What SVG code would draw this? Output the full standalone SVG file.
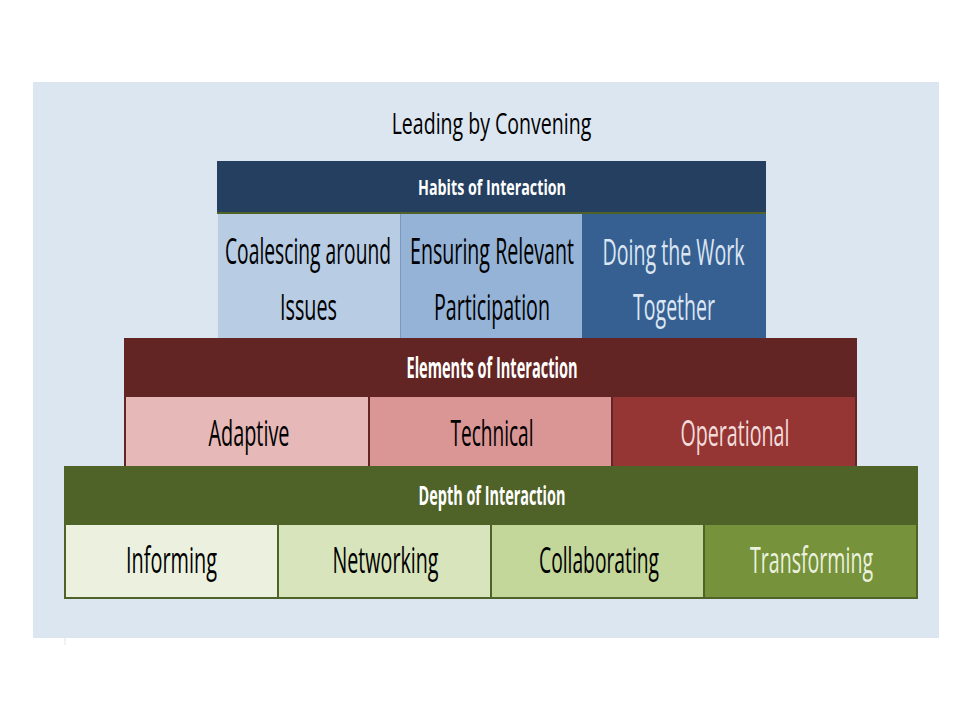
<svg xmlns="http://www.w3.org/2000/svg" width="960" height="720" viewBox="0 0 960 720">
<style>
text{font-family:"Open Sans","Noto Sans","Liberation Sans",sans-serif;text-anchor:middle}
.t{font-size:37px;fill:#000}
.h{font-weight:bold;fill:#ffffff}
.lt{fill:#dce6f2}
</style>
<rect x="0" y="0" width="960" height="720" fill="#ffffff"/>
<rect x="33" y="82" width="906" height="556" fill="#dce6f1"/>
<line x1="65" y1="638" x2="65" y2="645" stroke="#dce6f1" stroke-width="1"/>
<text transform="translate(491.5,134) scale(0.64,1)" x="0" y="0" style="font-size:29px" fill="#000" textLength="312" lengthAdjust="spacingAndGlyphs">Leading by Convening</text>

<g id="habits">
<rect x="217" y="161" width="549" height="51" fill="#243f60"/>
<rect x="217" y="212" width="549" height="2" fill="#4f6228"/>
<text class="h" transform="translate(492,195) scale(0.55,1)" x="0" y="0" style="font-size:22px" textLength="269" lengthAdjust="spacingAndGlyphs">Habits of Interaction</text>
</g>
<g id="coalescing">
<rect x="217" y="214" width="183" height="124" fill="#b8cce4"/>
<line x1="217.5" y1="214" x2="217.5" y2="338" stroke="#dbe5f1" stroke-width="1"/>
<text class="t" transform="translate(308,264) scale(0.5,1)" x="0" y="0" textLength="332" lengthAdjust="spacingAndGlyphs">Coalescing around</text>
<text class="t" transform="translate(308.5,320) scale(0.5,1)" x="0" y="0" textLength="114" lengthAdjust="spacingAndGlyphs">Issues</text>
</g>
<g id="ensuring">
<rect x="400" y="214" width="182" height="124" fill="#95b3d7"/>
<line x1="400.5" y1="214" x2="400.5" y2="338" stroke="#7a98c0" stroke-width="1"/>
<text class="t" transform="translate(492,264) scale(0.5,1)" x="0" y="0" textLength="328" lengthAdjust="spacingAndGlyphs">Ensuring Relevant</text>
<text class="t" transform="translate(492,320) scale(0.5,1)" x="0" y="0" textLength="232" lengthAdjust="spacingAndGlyphs">Participation</text>
</g>
<g id="doing">
<rect x="582" y="214" width="184" height="124" fill="#376092"/>
<text class="t lt" transform="translate(673.5,265) scale(0.5,1)" x="0" y="0" textLength="284" lengthAdjust="spacingAndGlyphs">Doing the Work</text>
<text class="t lt" transform="translate(674,320) scale(0.5,1)" x="0" y="0" textLength="164" lengthAdjust="spacingAndGlyphs">Together</text>
</g>

<g id="elements">
<rect x="124" y="338" width="733" height="58" fill="#632523"/>
<text class="h" transform="translate(492,378) scale(0.55,1)" x="0" y="0" style="font-size:28px" textLength="311" lengthAdjust="spacingAndGlyphs">Elements of Interaction</text>
</g>
<g id="adaptive">
<rect x="125" y="396" width="244" height="72" fill="#e6b8b7" stroke="#632523" stroke-width="2"/>
<text class="t" transform="translate(249,446) scale(0.5,1)" x="0" y="0" textLength="162" lengthAdjust="spacingAndGlyphs">Adaptive</text>
</g>
<g id="technical">
<rect x="369" y="396" width="243" height="72" fill="#da9694" stroke="#632523" stroke-width="2"/>
<text class="t" transform="translate(492,446) scale(0.5,1)" x="0" y="0" textLength="166" lengthAdjust="spacingAndGlyphs">Technical</text>
</g>
<g id="operational">
<rect x="612" y="396" width="244" height="72" fill="#963634" stroke="#632523" stroke-width="2"/>
<text class="t" transform="translate(735,446) scale(0.5,1)" x="0" y="0" style="fill:#f2dcdb" textLength="218" lengthAdjust="spacingAndGlyphs">Operational</text>
</g>

<g id="depth">
<rect x="64" y="466" width="854" height="58" fill="#4f6228"/>
<text class="h" transform="translate(492,505) scale(0.55,1)" x="0" y="0" style="font-size:26px" textLength="267" lengthAdjust="spacingAndGlyphs">Depth of Interaction</text>
</g>
<g id="informing">
<rect x="65" y="524" width="213" height="74" fill="#ebf1de" stroke="#4f6228" stroke-width="2"/>
<text class="t" transform="translate(171.5,573) scale(0.5,1)" x="0" y="0" textLength="182" lengthAdjust="spacingAndGlyphs">Informing</text>
</g>
<g id="networking">
<rect x="278" y="524" width="213" height="74" fill="#d8e4bc" stroke="#4f6228" stroke-width="2"/>
<text class="t" transform="translate(385.5,573) scale(0.5,1)" x="0" y="0" textLength="212" lengthAdjust="spacingAndGlyphs">Networking</text>
</g>
<g id="collaborating">
<rect x="491" y="524" width="213" height="74" fill="#c4d79b" stroke="#4f6228" stroke-width="2"/>
<text class="t" transform="translate(599,573) scale(0.5,1)" x="0" y="0" textLength="240" lengthAdjust="spacingAndGlyphs">Collaborating</text>
</g>
<g id="transforming">
<rect x="704" y="524" width="213" height="74" fill="#76933c" stroke="#4f6228" stroke-width="2"/>
<text class="t" transform="translate(811.5,573) scale(0.5,1)" x="0" y="0" style="fill:#ebf1de" textLength="246" lengthAdjust="spacingAndGlyphs">Transforming</text>
</g>
<g id="connectors"></g>
</svg>
